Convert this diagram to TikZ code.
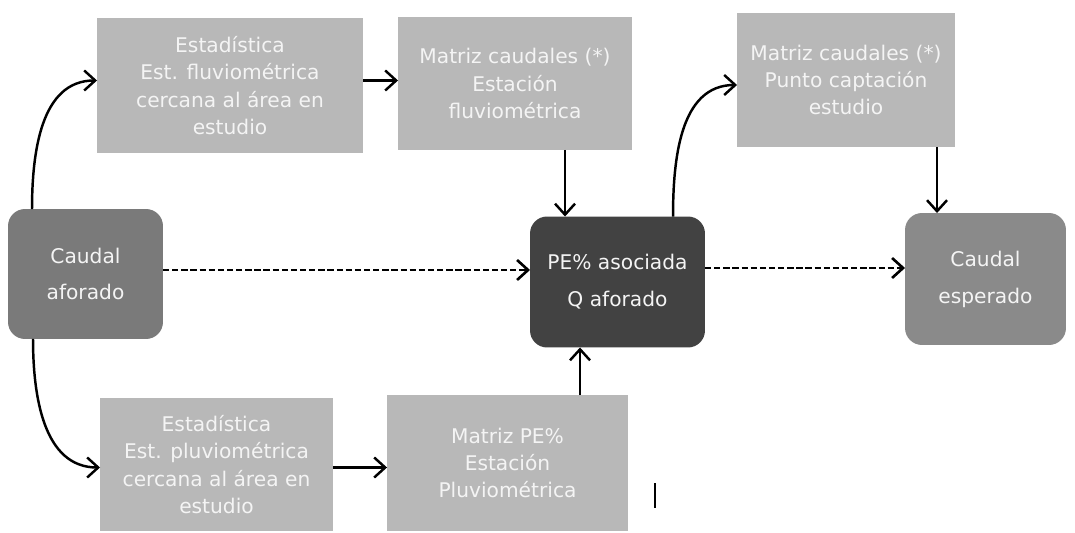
\documentclass[tikz,border=0pt]{standalone}
\usepackage{fontspec}
\setmainfont{DejaVu Sans}
\usetikzlibrary{arrows.meta,calc}
\definecolor{lightbox}{RGB}{184,184,184}
\definecolor{midbox}{RGB}{122,122,122}
\definecolor{darkbox}{RGB}{66,66,66}
\definecolor{espbox}{RGB}{138,138,138}
\definecolor{txtlight}{RGB}{244,244,244}
\tikzset{
  lbox/.style={rectangle,fill=lightbox,inner sep=0pt,outer sep=0pt,align=center,text=txtlight,font=\fontsize{11.5}{15.5}\selectfont},
  rbox/.style={rectangle,rounded corners=0.34cm,inner sep=0pt,outer sep=0pt,align=center,text=txtlight,font=\fontsize{11.5}{21}\selectfont},
  arr/.style={draw=black,line width=1.4pt,-{Straight Barb[length=2.2mm,width=4mm]}},
  darr/.style={arr,line width=1.5pt,dash pattern=on 3.6pt off 1.6pt}
}
\begin{document}
\begin{tikzpicture}[x=0.02cm,y=-0.02cm]
\useasboundingbox (0,0) rectangle (1075,533);
% light boxes
\node[lbox,minimum width=5.32cm,minimum height=2.70cm] (A) at (230,85.5) {Estadística\\Est. fluviométrica\\cercana al área en\\estudio};
\node[lbox,minimum width=4.68cm,minimum height=2.66cm] (B) at (515,83.5) {Matriz caudales (*)\\Estación\\fluviométrica};
\node[lbox,minimum width=4.36cm,minimum height=2.68cm] (C) at (846,80) {Matriz caudales (*)\\Punto captación\\estudio};
\node[lbox,minimum width=4.66cm,minimum height=2.66cm] (D) at (216.5,464.5) {Estadística\\Est. pluviométrica\\cercana al área en\\estudio};
\node[lbox,minimum width=4.82cm,minimum height=2.72cm] (E) at (507.5,463) {Matriz PE\%\\Estación\\Pluviométrica};
% rounded boxes
\node[rbox,fill=midbox,minimum width=3.10cm,minimum height=2.60cm] (af) at (85.5,274) {Caudal\\aforado};
\node[rbox,fill=darkbox,minimum width=3.50cm,minimum height=2.62cm] (pe) at (617.5,282) {PE\% asociada\\Q aforado};
\node[rbox,fill=espbox,minimum width=3.22cm,minimum height=2.64cm] (esp) at (985.5,279) {Caudal\\esperado};
% connector anchor points
\coordinate (aout) at ($(A.east)+(0,-5)$);
\coordinate (afout) at ($(af.east)+(0,-4)$);
\coordinate (peoutr) at ($(pe.east)+(0,-14)$);
\coordinate (dout) at ($(D.east)+(0,3)$);
\coordinate (pein) at ($(pe.north west)+(35,0)$);
\coordinate (espin) at ($(esp.north west)+(32,0)$);
\coordinate (peout) at ($(pe.south west)+(50,0)$);
% connectors
\draw[arr] ($(af.north west)+(24,0)$) to[out=90,in=180] ($(A.west)+(0,-5)$);
\draw[arr] (aout) -- (aout -| B.west);
\draw[arr] (pein |- B.south) -- (pein);
\draw[arr] ($(pe.north west)+(143,0)$) to[out=90,in=180] ($(C.west)+(0,5)$);
\draw[arr] (espin |- C.south) -- (espin);
\draw[darr] (afout) -- (afout -| pe.west);
\draw[darr] (peoutr) -- (peoutr -| esp.west);
\draw[arr] ($(af.south west)+(25,0)$) to[out=-90,in=180] ($(D.west)+(0,3)$);
\draw[arr] (dout) -- (dout -| E.west);
\draw[arr] (peout |- E.north) -- (peout);
% stray mark
\draw[line width=1.4pt] (655,483) -- (655,508);
\end{tikzpicture}
\end{document}
